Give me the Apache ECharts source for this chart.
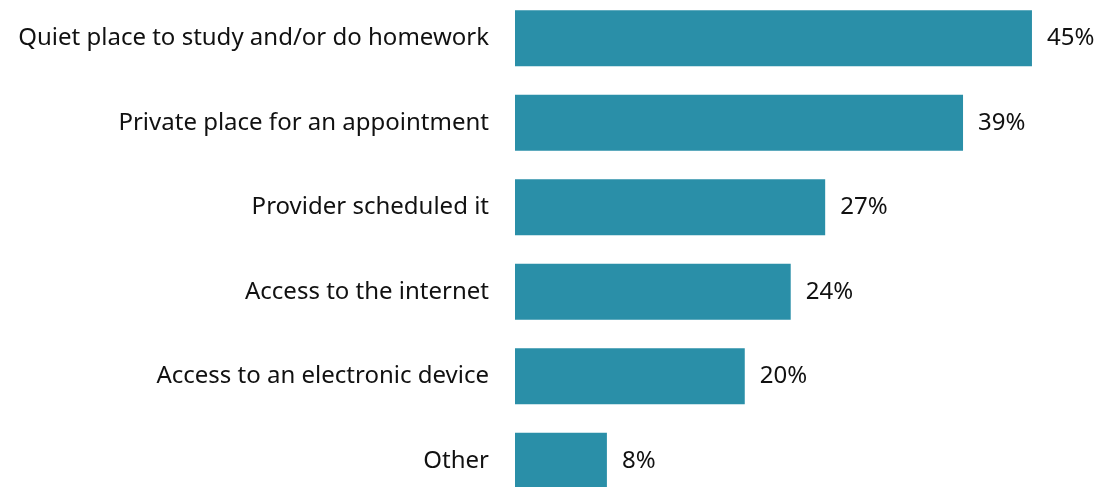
<!DOCTYPE html>
<html>
<head>
<meta charset="utf-8">
<script src="https://cdn.jsdelivr.net/npm/echarts@6/dist/echarts.min.js"></script>
<style>
  html, body { margin: 0; padding: 0; background: #fff; }
  #chart { width: 1104px; height: 487px; }
</style>
</head>
<body>
<div id="chart"></div>
<script>
// Reasons given, top to bottom
const categories = [
  'Quiet place to study and/or do homework',
  'Private place for an appointment',
  'Provider scheduled it',
  'Access to the internet',
  'Access to an electronic device',
  'Other'
];
// Share of respondents (%)
const values = [45, 39, 27, 24, 20, 8];

const FONT = '"Noto Sans", "Open Sans", sans-serif';

const chart = echarts.init(document.getElementById('chart'), null, { renderer: 'canvas' });
chart.setOption({
  animation: false,
  grid: {
    left: 515, top: -4, width: 574.4, height: 507,
    containLabel: false, outerBoundsMode: 'none'
  },
  xAxis: {
    type: 'value', min: 0, max: 50,
    show: false
  },
  yAxis: {
    type: 'category',
    data: categories,
    inverse: true,
    axisLine: { show: false },
    axisTick: { show: false },
    axisLabel: {
      margin: 26,
      color: '#111',
      fontSize: 24,
      fontFamily: FONT
    }
  },
  series: [{
    type: 'bar',
    data: values,
    barWidth: 56,
    itemStyle: { color: '#2A8FA8' },
    label: {
      show: true,
      position: 'right',
      distance: 15,
      formatter: p => p.value + '%',
      color: '#111',
      fontSize: 24,
      fontFamily: FONT
    }
  }]
});
</script>
</body>
</html>
